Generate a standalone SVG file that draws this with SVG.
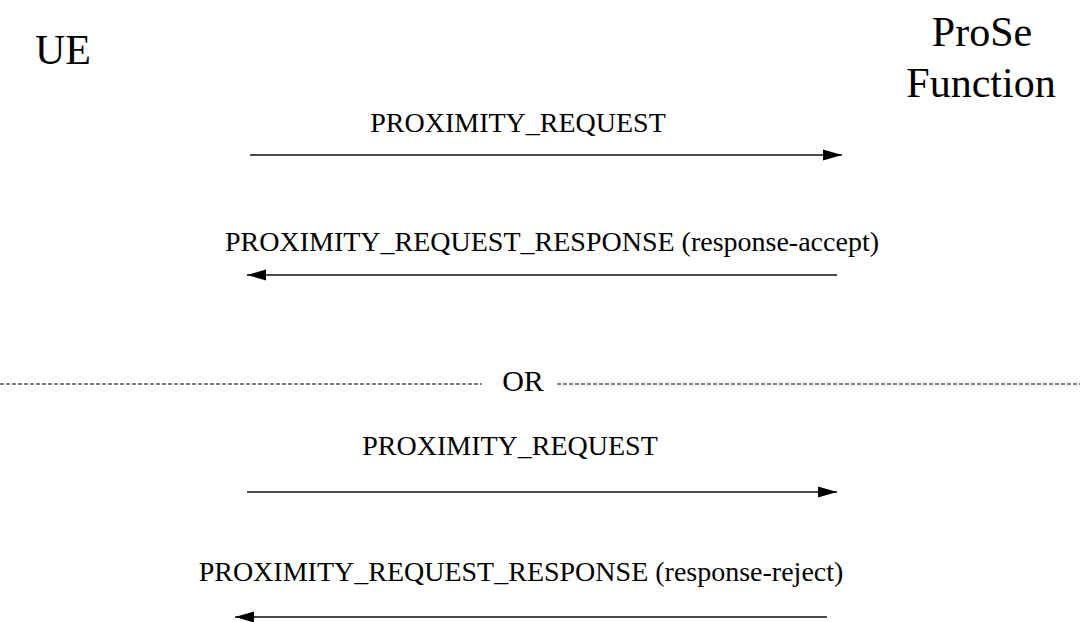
<svg xmlns="http://www.w3.org/2000/svg" width="1080" height="622" viewBox="0 0 1080 622" font-family="'Liberation Serif', 'Times New Roman', Times, serif">
<style>
text{fill:#000}
.big{font-size:42px}
.lbl{font-size:28px;text-anchor:middle}
.msg{stroke:#111;stroke-width:1.5;fill:none;marker-end:url(#ah)}
.sep{stroke:#000;stroke-width:1;stroke-dasharray:4 2}
</style>
<defs>
<marker id="ah" markerUnits="userSpaceOnUse" markerWidth="19" markerHeight="12" refX="19" refY="6" orient="auto">
<path d="M0,0.5 L19,6 L0,11.5 Z" fill="#000"/>
</marker>
</defs>
<rect width="1080" height="622" fill="#fff"/>
<g id="ue"><text class="big" x="35" y="64" font-family="'Liberation Serif', serif">UE</text></g>
<g id="prose" font-family="'Liberation Serif', serif"><text class="big" x="982" y="46" text-anchor="middle">ProSe</text><text class="big" x="981" y="97" text-anchor="middle">Function</text></g>
<g id="connectors">
<line class="msg" x1="250" y1="155" x2="842" y2="155"/>
<line class="msg" x1="837" y1="275" x2="247" y2="275"/>
<line class="msg" x1="247" y1="492" x2="837" y2="492"/>
<line class="msg" x1="827" y1="617" x2="235" y2="617"/>
<line class="sep" x1="0" y1="384" x2="482" y2="384"/>
<line class="sep" x1="557" y1="384" x2="1080" y2="384"/>
</g>
<g id="labels" font-family="'Liberation Serif', serif">
<text class="lbl" x="518" y="132">PROXIMITY_REQUEST</text>
<text class="lbl" x="552" y="251">PROXIMITY_REQUEST_RESPONSE (response-accept)</text>
<text class="lbl" x="523" y="391" style="font-size:30px">OR</text>
<text class="lbl" x="510" y="455">PROXIMITY_REQUEST</text>
<text class="lbl" x="521" y="581">PROXIMITY_REQUEST_RESPONSE (response-reject)</text>
</g>
</svg>
